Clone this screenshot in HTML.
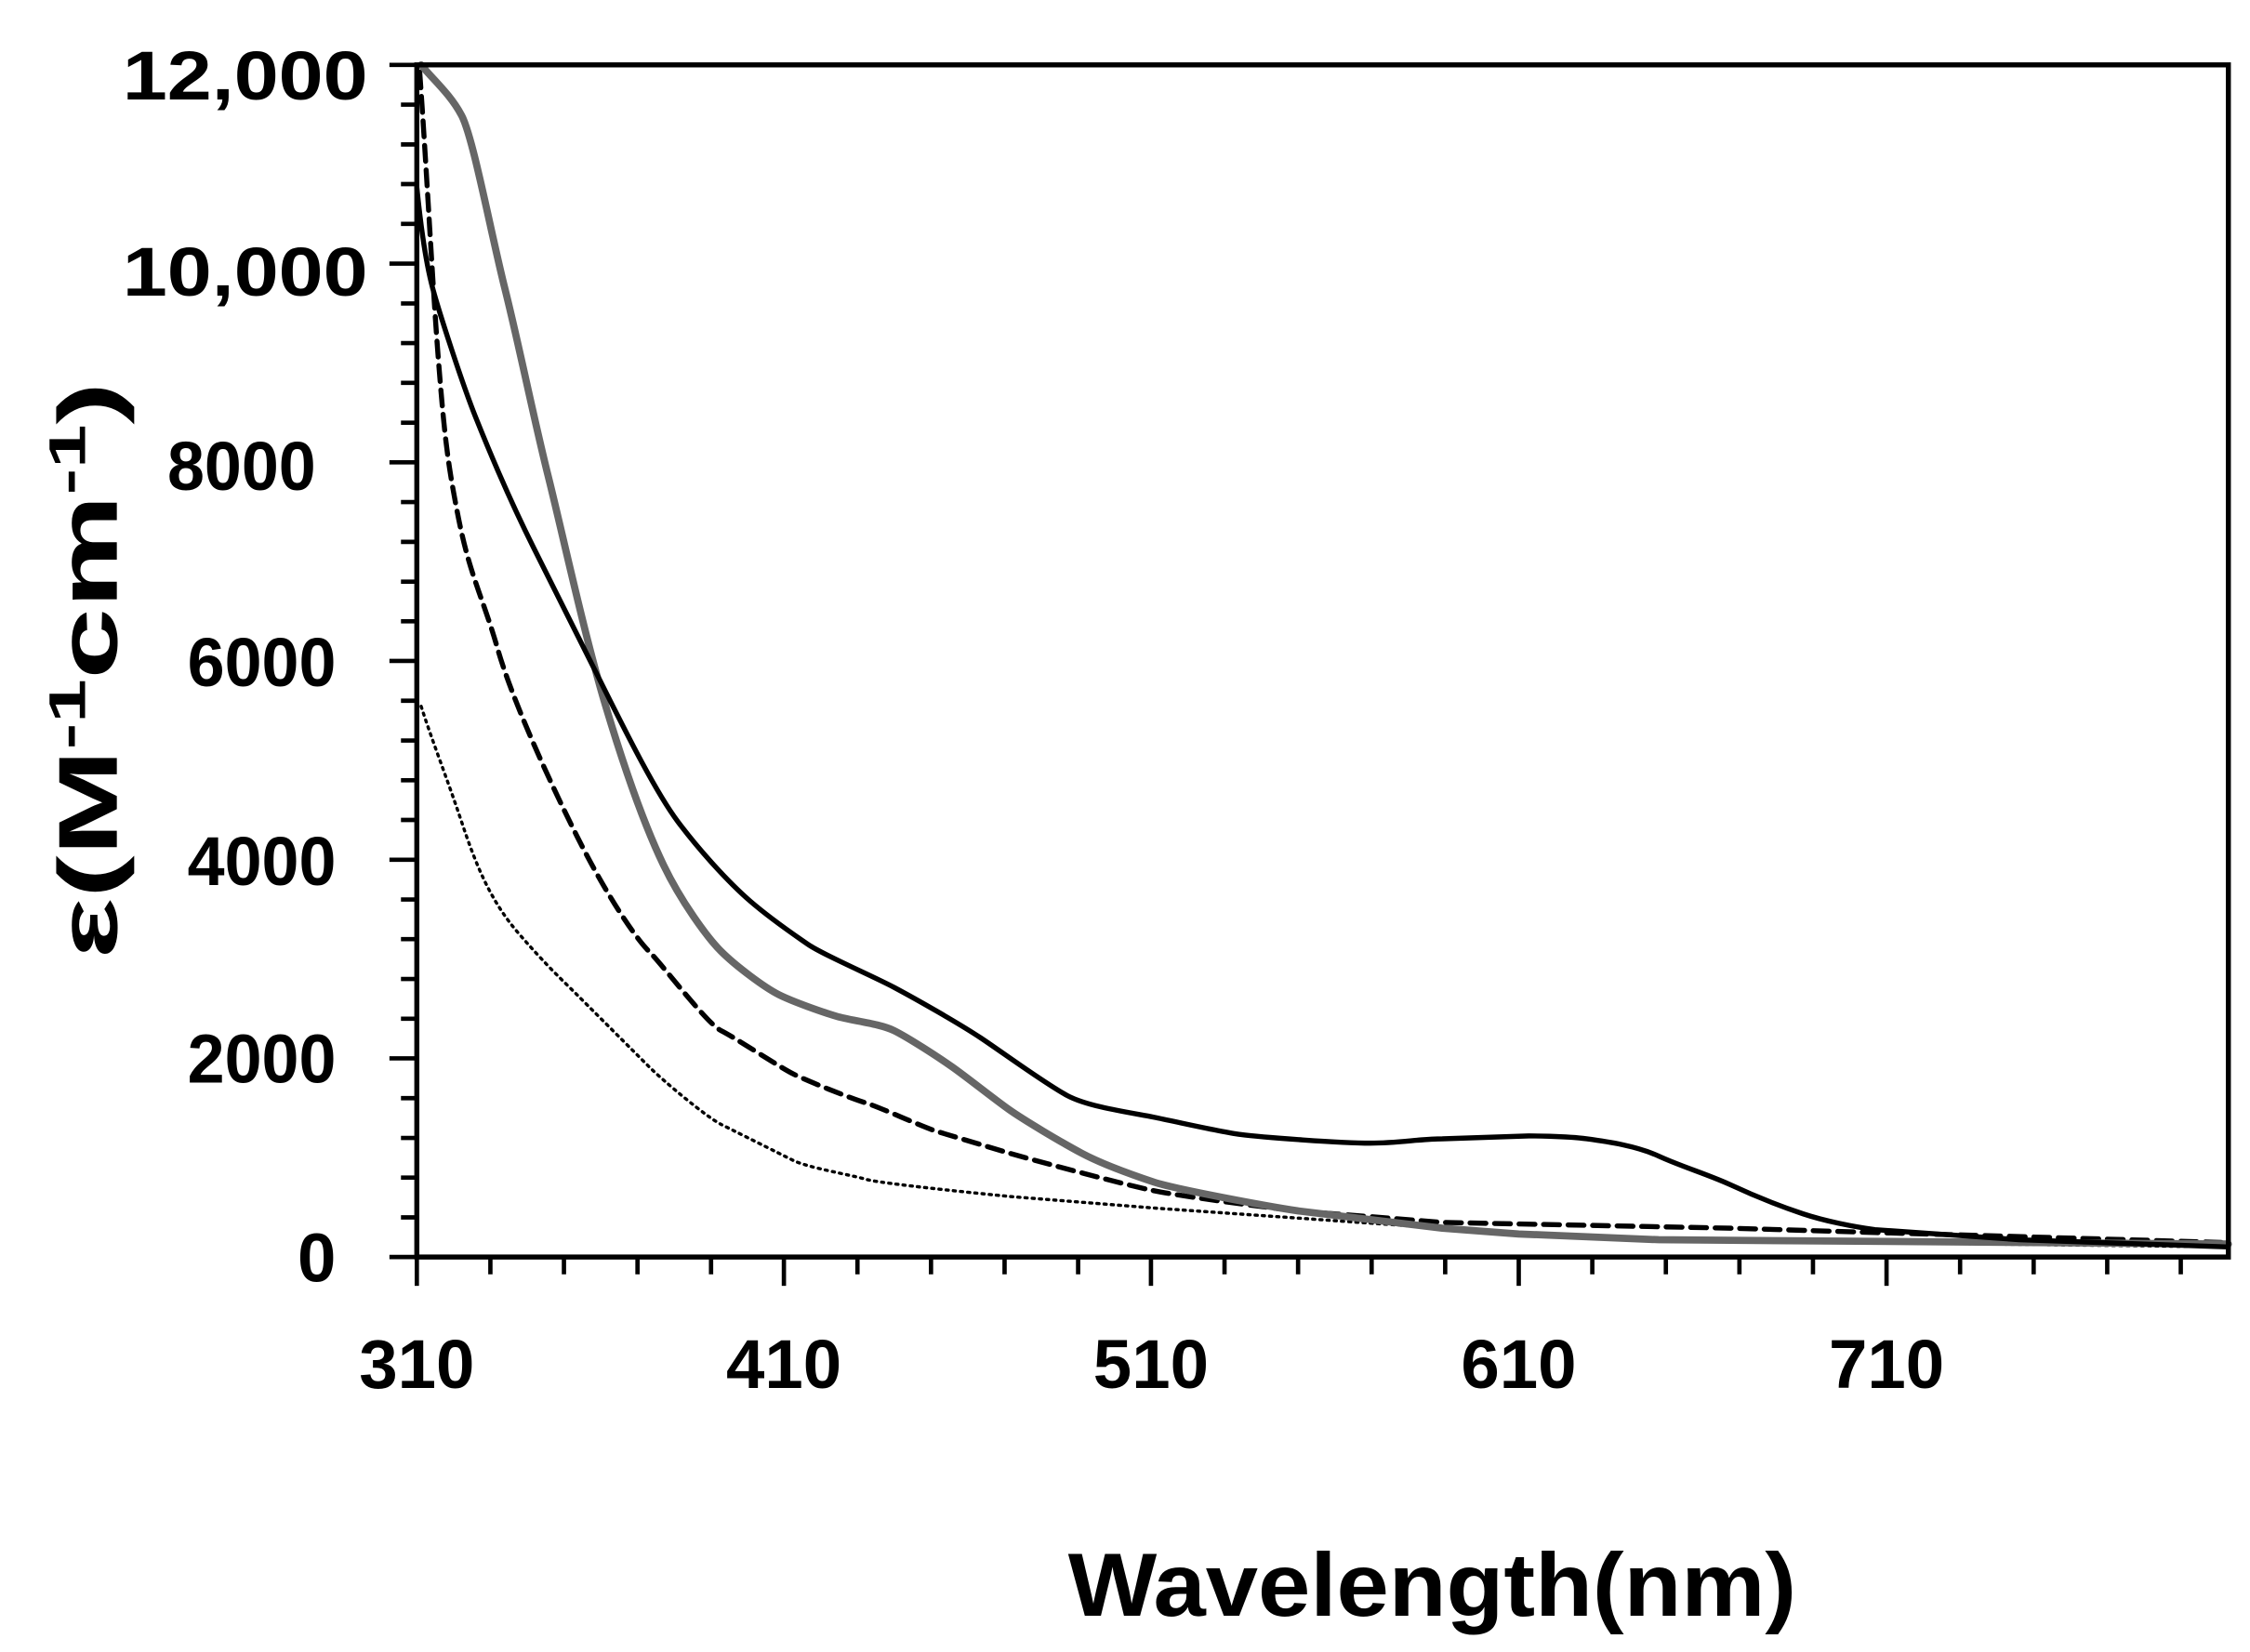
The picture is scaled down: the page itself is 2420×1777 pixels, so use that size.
<!DOCTYPE html>
<html><head><style>html,body{margin:0;padding:0;background:#fff}svg{display:block}</style></head>
<body>
<svg width="2420" height="1777" viewBox="0 0 1560 1146" preserveAspectRatio="none" xmlns="http://www.w3.org/2000/svg" font-family="Liberation Sans, sans-serif" font-weight="bold">
<rect width="1560" height="1146" fill="#fff"/>
<g stroke="#000" stroke-width="3">
<line x1="270" y1="45" x2="289" y2="45"/>
<line x1="278" y1="72.6" x2="289" y2="72.6"/><line x1="278" y1="100.2" x2="289" y2="100.2"/><line x1="278" y1="127.7" x2="289" y2="127.7"/><line x1="278" y1="155.3" x2="289" y2="155.3"/>
<line x1="270" y1="182.9" x2="289" y2="182.9"/>
<line x1="278" y1="210.5" x2="289" y2="210.5"/><line x1="278" y1="238" x2="289" y2="238"/><line x1="278" y1="265.6" x2="289" y2="265.6"/><line x1="278" y1="293.2" x2="289" y2="293.2"/>
<line x1="270" y1="320.7" x2="289" y2="320.7"/>
<line x1="278" y1="348.3" x2="289" y2="348.3"/><line x1="278" y1="375.9" x2="289" y2="375.9"/><line x1="278" y1="403.5" x2="289" y2="403.5"/><line x1="278" y1="431" x2="289" y2="431"/>
<line x1="270" y1="458.5" x2="289" y2="458.5"/>
<line x1="278" y1="486.1" x2="289" y2="486.1"/><line x1="278" y1="513.7" x2="289" y2="513.7"/><line x1="278" y1="541.3" x2="289" y2="541.3"/><line x1="278" y1="568.8" x2="289" y2="568.8"/>
<line x1="270" y1="596.4" x2="289" y2="596.4"/>
<line x1="278" y1="624" x2="289" y2="624"/><line x1="278" y1="651.5" x2="289" y2="651.5"/><line x1="278" y1="679.1" x2="289" y2="679.1"/><line x1="278" y1="706.7" x2="289" y2="706.7"/>
<line x1="270" y1="734.2" x2="289" y2="734.2"/>
<line x1="278" y1="761.8" x2="289" y2="761.8"/><line x1="278" y1="789.4" x2="289" y2="789.4"/><line x1="278" y1="816.9" x2="289" y2="816.9"/><line x1="278" y1="844.5" x2="289" y2="844.5"/>
<line x1="270" y1="872" x2="289" y2="872"/>
</g>
<g stroke="#000" stroke-width="3">
<line x1="289" y1="872" x2="289" y2="892"/><line x1="340" y1="872" x2="340" y2="884"/><line x1="391" y1="872" x2="391" y2="884"/><line x1="442" y1="872" x2="442" y2="884"/><line x1="493" y1="872" x2="493" y2="884"/>
<line x1="543.5" y1="872" x2="543.5" y2="892"/><line x1="594.5" y1="872" x2="594.5" y2="884"/><line x1="645.5" y1="872" x2="645.5" y2="884"/><line x1="696.5" y1="872" x2="696.5" y2="884"/><line x1="747.5" y1="872" x2="747.5" y2="884"/>
<line x1="798" y1="872" x2="798" y2="892"/><line x1="849" y1="872" x2="849" y2="884"/><line x1="900" y1="872" x2="900" y2="884"/><line x1="951" y1="872" x2="951" y2="884"/><line x1="1002" y1="872" x2="1002" y2="884"/>
<line x1="1053" y1="872" x2="1053" y2="892"/><line x1="1104" y1="872" x2="1104" y2="884"/><line x1="1155" y1="872" x2="1155" y2="884"/><line x1="1206" y1="872" x2="1206" y2="884"/><line x1="1257" y1="872" x2="1257" y2="884"/>
<line x1="1308" y1="872" x2="1308" y2="892"/><line x1="1359" y1="872" x2="1359" y2="884"/><line x1="1410" y1="872" x2="1410" y2="884"/><line x1="1461" y1="872" x2="1461" y2="884"/><line x1="1512" y1="872" x2="1512" y2="884"/>
</g>
<g fill="none" stroke-linejoin="round" stroke-linecap="round">
<path stroke="#000" stroke-width="2.2" stroke-dasharray="1.5 3.5" d="M292,490 C300,515 310,540 320,570 S340,625 360,648 S390,680 400,690 S440,730 450,740 S490,775 500,780 S540,800 550,805 S590,815 600,818 S680,828 700,830 L800,838 L900,845 L1000,852 L1100,858 L1300,862 L1545,865"/>
<path stroke="#000" stroke-width="3.5" stroke-dasharray="11 6" d="M291,50 C296,120 300,200 304,250 S310,320 318,360 S335,415 345,450 S380,540 400,580 S440,650 450,660 S490,710 500,715 S540,740 550,745 S590,762 600,765 S640,782 650,785 S690,797 700,800 S780,822 800,826 S880,838 900,840 L1000,848 L1100,850 L1200,852 L1300,855 L1545,862"/>
<path stroke="#666" stroke-width="5" d="M292,45 C300,55 312,65 320,80 S340,160 350,200 S370,290 380,330 S405,440 420,490 S448,575 460,600 S490,650 500,660 S530,685 540,690 S570,702 580,705 S610,710 620,715 S650,733 660,740 S690,763 700,770 S735,792 750,800 S785,815 800,820 S880,837 900,840 L1000,852 L1053,856 L1150,860 L1545,863"/>
<path stroke="#000" stroke-width="3.5" d="M289,130 C292,160 296,185 300,200 S320,265 330,290 S355,350 370,380 S405,450 420,480 S455,550 470,570 S505,612 520,625 S550,648 560,655 S605,677 620,685 S665,710 680,720 S725,752 740,760 S785,772 800,775 S845,785 860,787 S930,793 950,793 S985,790 1000,790 L1060,788 S1085,788 1100,790 S1135,795 1150,802 S1185,815 1200,822 S1235,837 1250,842 S1285,851 1300,853 L1400,860 L1545,865"/>
</g>
<rect x="289" y="45" width="1256" height="827" fill="none" stroke="#000" stroke-width="3.5"/>
<g font-size="48" text-anchor="end">
<text x="255" y="69" textLength="170" lengthAdjust="spacingAndGlyphs">12,000</text>
<text x="255" y="205" textLength="170" lengthAdjust="spacingAndGlyphs">10,000</text>
<text x="219" y="340" textLength="103" lengthAdjust="spacingAndGlyphs">8000</text>
<text x="233" y="476" textLength="103" lengthAdjust="spacingAndGlyphs">6000</text>
<text x="233" y="614" textLength="103" lengthAdjust="spacingAndGlyphs">4000</text>
<text x="233" y="751" textLength="103" lengthAdjust="spacingAndGlyphs">2000</text>
<text x="233" y="889">0</text>
</g>
<g font-size="48" text-anchor="middle">
<text x="289" y="963">310</text>
<text x="543.5" y="963">410</text>
<text x="798" y="963">510</text>
<text x="1053" y="963">610</text>
<text x="1308" y="963">710</text>
</g>
<text x="993" y="1121" font-size="62" text-anchor="middle" textLength="505" lengthAdjust="spacingAndGlyphs">Wavelength(nm)</text>
<text transform="translate(81,465) rotate(-90)" font-size="58" text-anchor="middle" textLength="400" lengthAdjust="spacingAndGlyphs">ε(M<tspan font-size="36" dy="-22">-1</tspan><tspan dy="22">cm</tspan><tspan font-size="36" dy="-22">-1</tspan><tspan dy="22">)</tspan></text>
</svg>
</body></html>
